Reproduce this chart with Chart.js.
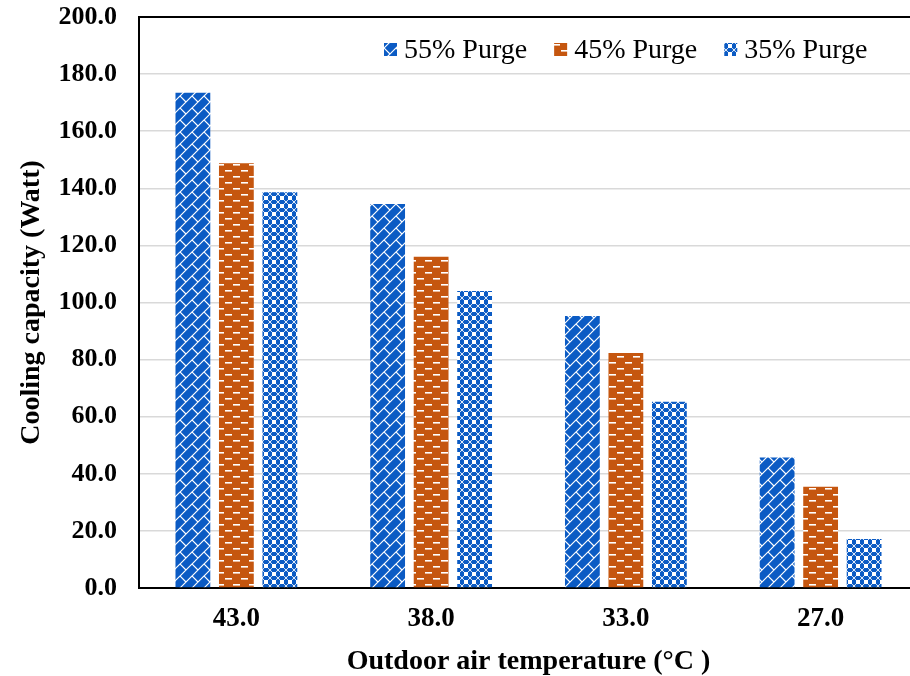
<!DOCTYPE html>
<html>
<head>
<meta charset="utf-8">
<script src="https://cdn.jsdelivr.net/npm/chart.js@4/dist/chart.umd.min.js"></script>
<style>
  html, body { margin: 0; padding: 0; background: #fff; overflow: hidden; }
  #wrap { width: 930px; height: 676px; }
</style>
</head>
<body>
<div id="wrap"><canvas id="chart" width="930" height="676"></canvas></div>
<script>
const temps = ['43.0', '38.0', '33.0', '27.0'];
const purge55 = [173.5, 134.5, 95.3, 45.7];
const purge45 = [148.8, 116.0, 82.3, 35.5];
const purge35 = [138.6, 104.0, 65.2, 17.2];

const BLUE = '#0b5bc4';
const ORANGE = '#c5560f';
const SERIF = '"Liberation Serif", "Times New Roman", serif';

// little tiles used as fill patterns
function tile(w, h, draw) {
  const c = document.createElement('canvas');
  c.width = w; c.height = h;
  draw(c.getContext('2d'));
  return c.getContext('2d').createPattern(c, 'repeat');
}

// diagonal shingles
const diagBlue = tile(12, 12, g => {
  g.fillStyle = BLUE; g.fillRect(0, 0, 12, 12);
  g.strokeStyle = '#fff'; g.lineWidth = 1.2;
  g.beginPath();
  g.moveTo(-1, 13); g.lineTo(13, -1);
  g.moveTo(-1, 1); g.lineTo(1, -1);
  g.moveTo(11, 13); g.lineTo(13, 11);
  g.moveTo(0, 0); g.lineTo(6, 6);
  g.stroke();
});

// white dashes, staggered
const dashOrange = tile(16, 12, g => {
  g.fillStyle = ORANGE; g.fillRect(0, 0, 16, 12);
  g.fillStyle = '#fff';
  g.fillRect(1, 2, 7, 1.6);
  g.fillRect(9, 8, 7, 1.6);
});

// checker with rings
const dotsBlue = tile(8, 8, g => {
  g.fillStyle = '#fff'; g.fillRect(0, 0, 8, 8);
  g.fillStyle = BLUE;
  g.fillRect(0, 0, 4, 4);
  g.fillRect(4, 4, 4, 4);
  g.strokeStyle = BLUE; g.lineWidth = 1;
  g.beginPath(); g.arc(6, 2, 1.6, 0, Math.PI * 2); g.stroke();
  g.fillStyle = '#fff';
  g.beginPath(); g.arc(2, 6, 1.2, 0, Math.PI * 2); g.fill();
});

// legend drawn inside the plot, top right
const insideLegend = {
  id: 'insideLegend',
  afterDraw(chart) {
    const ctx = chart.ctx;
    let x = 384;
    const y = 50;
    ctx.save();
    ctx.font = '28px ' + SERIF;
    ctx.textBaseline = 'middle';
    chart.data.datasets.forEach(ds => {
      ctx.fillStyle = ds.backgroundColor;
      ctx.fillRect(x, y - 7, 13, 13);
      ctx.fillStyle = '#000';
      ctx.fillText(ds.label, x + 20, y + 1);
      x += 20 + ctx.measureText(ds.label).width + 27;
    });
    ctx.restore();
  }
};

const chart = new Chart(document.getElementById('chart'), {
  type: 'bar',
  data: {
    labels: temps,
    datasets: [
      { label: '55% Purge', data: purge55, backgroundColor: diagBlue, borderWidth: 0 },
      { label: '45% Purge', data: purge45, backgroundColor: dashOrange, borderWidth: 0 },
      { label: '35% Purge', data: purge35, backgroundColor: dotsBlue, borderWidth: 0 }
    ]
  },
  plugins: [insideLegend],
  options: {
    responsive: false,
    animation: false,
    datasets: { bar: { barPercentage: 0.8, categoryPercentage: 0.67 } },
    layout: { padding: { top: 17, right: 12, left: 12, bottom: 0 } },
    plugins: {
      tooltip: { enabled: false },
      legend: { display: false }
    },
    scales: {
      x: {
        afterFit: s => { s.height = 88; },
        grid: { display: false },
        border: { display: true, color: '#000', width: 2 },
        ticks: { color: '#000', font: { family: SERIF, size: 27, weight: 'bold', lineHeight: 1 }, padding: 10 },
        title: {
          display: true,
          text: 'Outdoor air temperature (°C )',
          color: '#000',
          font: { family: SERIF, size: 28, weight: 'bold', lineHeight: 1 },
          padding: { top: 0, bottom: 0 }
        }
      },
      y: {
        afterFit: s => { s.width = 127; s.paddingTop = 0; s.paddingBottom = 0; },
        min: 0,
        max: 200,
        ticks: {
          stepSize: 20,
          color: '#000',
          font: { family: SERIF, size: 26, weight: 'bold' },
          padding: 22,
          callback: v => v.toFixed(1)
        },
        grid: {
          color: c => (c.tick && c.tick.value === 200 ? '#000' : '#d9d9d9'),
          lineWidth: c => (c.tick && c.tick.value === 200 ? 2 : 1.5),
          drawTicks: false
        },
        border: { display: true, color: '#000', width: 2 },
        title: {
          display: true,
          text: 'Cooling capacity (Watt)',
          color: '#000',
          font: { family: SERIF, size: 28, weight: 'bold' },
          padding: { top: 3, bottom: 5 }
        }
      }
    }
  }
});
</script>
</body>
</html>
